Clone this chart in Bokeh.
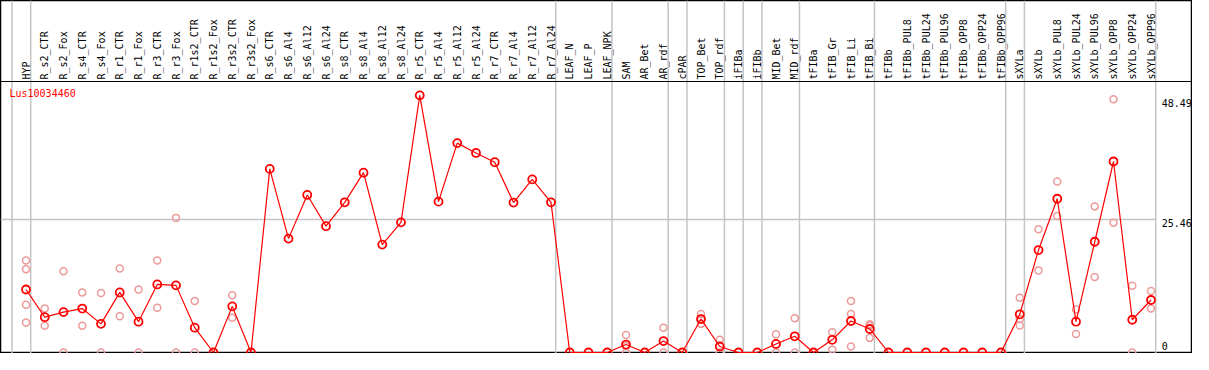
import numpy as np
from math import pi
from bokeh.plotting import figure
from bokeh.models import Range1d
from bokeh.core.properties import value
from bokeh.embed import file_html
from bokeh.resources import INLINE

gene = "Lus10034460"

categories = [
    "HYP", "R_s2_CTR", "R_s2_Fox", "R_s4_CTR", "R_s4_Fox", "R_r1_CTR", "R_r1_Fox",
    "R_r3_CTR", "R_r3_Fox", "R_r1s2_CTR", "R_r1s2_Fox", "R_r3s2_CTR", "R_r3s2_Fox",
    "R_s6_CTR", "R_s6_Al4", "R_s6_Al12", "R_s6_Al24", "R_s8_CTR", "R_s8_Al4",
    "R_s8_Al12", "R_s8_Al24", "R_r5_CTR", "R_r5_Al4", "R_r5_Al12", "R_r5_Al24",
    "R_r7_CTR", "R_r7_Al4", "R_r7_Al12", "R_r7_Al24", "LEAF_N", "LEAF_P", "LEAF_NPK",
    "SAM", "AR_Bet", "AR_rdf", "cPAR", "TOP_Bet", "TOP_rdf", "iFIBa", "iFIBb",
    "MID_Bet", "MID_rdf", "tFIBa", "tFIB_Gr", "tFIB_Li", "tFIB_Bi", "tFIBb",
    "tFIBb_PUL8", "tFIBb_PUL24", "tFIBb_PUL96", "tFIBb_OPP8", "tFIBb_OPP24", "tFIBb_OPP96",
    "sXYLa", "sXYLb", "sXYLb_PUL8", "sXYLb_PUL24", "sXYLb_PUL96", "sXYLb_OPP8",
    "sXYLb_OPP24", "sXYLb_OPP96",
]

means = [
    12.06, 6.76, 7.73, 8.41, 5.48, 11.50, 5.90, 13.03, 12.85, 4.75, 0.0, 8.83, 0.0,
    35.15, 21.80, 30.16, 24.18, 28.75, 34.42, 20.65, 24.91,
    49.22, 28.88, 40.08, 38.20, 36.43, 28.70, 33.14, 28.75,
    0.0, 0.0, 0.0,
    1.52, 0.0, 2.19, 0.0, 6.40, 1.15, 0.0, 0.0, 1.64, 3.10,
    0.0, 2.43, 6.03, 4.50,
    0.0, 0.0, 0.0, 0.0, 0.0, 0.0, 0.0,
    7.31, 19.61, 29.43, 5.90, 21.20, 36.56, 6.27, 10.05,
]

rep_names = [
    "HYP", "HYP", "HYP", "HYP",
    "R_s2_CTR", "R_s2_CTR", "R_s2_Fox", "R_s2_Fox",
    "R_s4_CTR", "R_s4_CTR", "R_s4_Fox", "R_s4_Fox",
    "R_r1_CTR", "R_r1_CTR", "R_r1_Fox", "R_r1_Fox",
    "R_r3_CTR", "R_r3_CTR", "R_r3_Fox", "R_r3_Fox",
    "R_r1s2_CTR", "R_r1s2_CTR", "R_r3s2_CTR", "R_r3s2_CTR",
    "SAM", "SAM", "SAM", "AR_rdf", "AR_rdf",
    "TOP_Bet", "TOP_Bet", "TOP_Bet", "TOP_rdf", "TOP_rdf",
    "MID_Bet", "MID_Bet", "MID_rdf", "MID_rdf",
    "tFIB_Gr", "tFIB_Gr", "tFIB_Li", "tFIB_Li", "tFIB_Li",
    "tFIB_Bi", "tFIB_Bi", "tFIB_Bi",
    "sXYLa", "sXYLa", "sXYLa", "sXYLb", "sXYLb",
    "sXYLb_PUL8", "sXYLb_PUL8", "sXYLb_PUL24", "sXYLb_PUL24",
    "sXYLb_PUL96", "sXYLb_PUL96", "sXYLb_OPP8", "sXYLb_OPP8",
    "sXYLb_OPP24", "sXYLb_OPP24", "sXYLb_OPP96", "sXYLb_OPP96",
]
rep_values = [
    17.60, 15.96, 9.14, 5.72,
    8.41, 5.12, 15.54, 0.0,
    11.50, 5.12, 11.39, 0.0,
    16.08, 6.95, 12.06, 0.0,
    17.60, 8.59, 25.77, 0.0,
    9.87, 0.0, 10.97, 6.63,
    3.35, 1.20, 0.0, 4.75, 0.0,
    7.37, 6.35, 5.48, 2.43, 0.0,
    3.47, 0.0, 6.58, 0.0,
    3.89, 0.55, 9.87, 7.37, 1.15,
    5.41, 5.12, 2.80,
    10.47, 6.40, 5.17, 23.58, 15.72,
    32.72, 26.14, 8.22, 3.53,
    27.97, 14.44, 48.49, 24.86,
    12.79, 0.0, 11.75, 8.41,
]

group_sizes = [1, 28, 3, 3, 1, 2, 1, 1, 2, 4, 7, 1, 7]
y_ticks = [0, 25.46, 48.49]
y_tick_labels = ["0", "25.46", "48.49"]

# ---- layout (pixels) ----
W, H = 1192, 353
COL = 18.75      # px per column
X0 = 25.5        # px of first column centre
K = 5.224        # px per unit
Z = 352          # px (from top) of zero
HEAD = 81        # px (from top) of header separator

x_range = Range1d(-X0 / COL, (W - X0) / COL)
y_range = Range1d(-(H - Z) / K, Z / K)
y_head = (Z - HEAD) / K

p = figure(width=W, height=H, x_range=x_range, y_range=y_range,
           toolbar_location=None, output_backend="svg", min_border=0,
           x_axis_location=None, y_axis_location=None)
p.grid.visible = False
p.outline_line_color = "black"
p.outline_line_width = 1.5
p.background_fill_color = "white"
p.border_fill_color = "white"

idx = np.arange(len(categories))
font = value("DejaVu Sans Mono")

# group separators
breaks = np.cumsum([0] + group_sizes) - 1
sep_x = breaks + 0.25
p.segment(x0=sep_x, y0=[y_range.start] * len(sep_x), x1=sep_x, y1=[y_range.end] * len(sep_x),
          line_color="#c4c4c4", line_width=1.5)

# mid value line
p.segment(x0=[x_range.start], y0=[y_ticks[1]], x1=[sep_x[-1]], y1=[y_ticks[1]],
          line_color="#c4c4c4", line_width=1.5)

# header separator
p.segment(x0=[x_range.start], y0=[y_head], x1=[x_range.end], y1=[y_head],
          line_color="black", line_width=1.2)

# header labels
p.text(x=idx, y=[y_head] * len(categories), text=categories, angle=pi / 2,
       text_align="left", text_baseline="middle", y_offset=-2,
       text_font=font, text_font_size="10px", text_color="black")

# replicates
rep_x = [categories.index(n) for n in rep_names]
p.scatter(x=rep_x, y=rep_values, marker="circle", size=7, fill_color=None,
          line_color="#ec9a9a", line_width=1.5)

# mean line + markers
p.line(x=idx, y=means, line_color="#ff0000", line_width=1.2)
p.scatter(x=idx, y=means, marker="circle", size=8, fill_color=None,
          line_color="#ff0000", line_width=1.8)

# value labels on the right
p.text(x=[sep_x[-1]] * 2, y=y_ticks[1:], text=y_tick_labels[1:], x_offset=6, y_offset=0,
       text_align="left", text_baseline="top",
       text_font=font, text_font_size="10px", text_color="black")
p.text(x=[sep_x[-1]], y=y_ticks[:1], text=y_tick_labels[:1], x_offset=6, y_offset=-3,
       text_align="left", text_baseline="bottom",
       text_font=font, text_font_size="10px", text_color="black")

# gene name
p.text(x=[x_range.start], y=[y_head], text=[gene], x_offset=9, y_offset=12,
       text_align="left", text_baseline="middle",
       text_font=font, text_font_size="10px", text_color="#ff0000")

open("out.html", "w").write(file_html(p, INLINE))
